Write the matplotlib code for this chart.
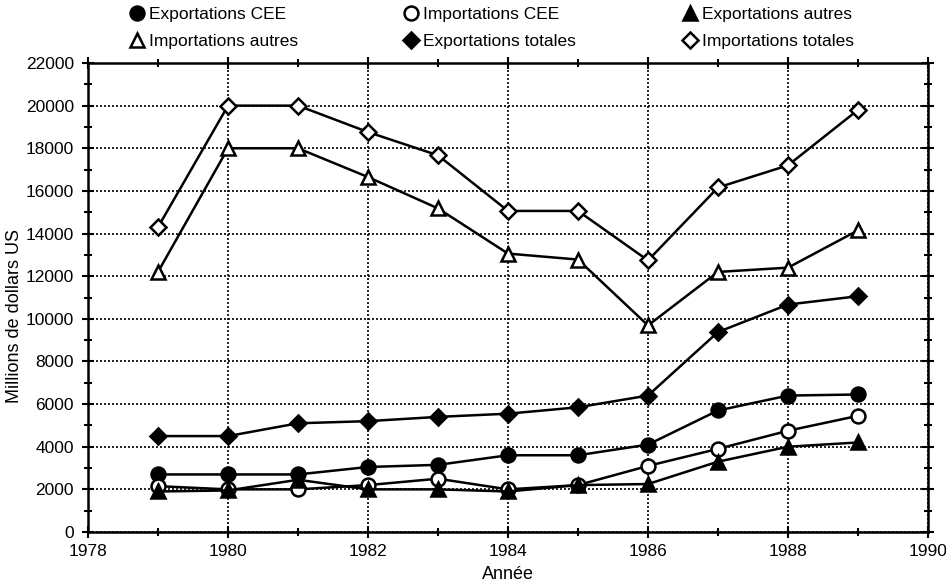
import matplotlib
matplotlib.use("Agg")
import matplotlib.pyplot as plt
from matplotlib.lines import Line2D
from matplotlib.ticker import MultipleLocator

years = [1979, 1980, 1981, 1982, 1983, 1984, 1985, 1986, 1987, 1988, 1989]
exp_cee = [2700, 2700, 2700, 3050, 3150, 3600, 3600, 4100, 5700, 6400, 6450]
imp_cee = [2150, 2000, 2000, 2200, 2500, 2000, 2200, 3100, 3900, 4750, 5450]
exp_autres = [1900, 1950, 2450, 2000, 2000, 1900, 2200, 2250, 3300, 4000, 4200]
imp_autres = [12200, 18000, 18000, 16650, 15180, 13060, 12780, 9690, 12200, 12400, 14150]
exp_tot = [4500, 4500, 5100, 5200, 5400, 5550, 5850, 6400, 9380, 10670, 11060]
imp_tot = [14300, 20000, 20000, 18760, 17670, 15060, 15060, 12740, 16160, 17200, 19800]

labels = ["Exportations CEE", "Importations CEE", "Exportations autres",
          "Importations autres", "Exportations totales", "Importations totales"]
series = [exp_cee, imp_cee, exp_autres, imp_autres, exp_tot, imp_tot]
markers = ["o", "o", "^", "^", "D", "D"]
faces = ["black", "white", "black", "white", "black", "white"]
sizes = [10, 10, 10, 10, 8, 8]

plt.rcParams['font.family'] = ['Liberation Sans', 'DejaVu Sans']

W, H = 946, 586
fig = plt.figure(figsize=(W / 100, H / 100), dpi=100)
ax = fig.add_axes([88 / W, 1 - 532 / H, 840 / W, 469 / H])

for y, m, fc, s in zip(series, markers, faces, sizes):
    ax.plot(years, y, color="black", lw=1.8, marker=m, markersize=s,
            markerfacecolor=fc, markeredgecolor="black", markeredgewidth=1.8,
            zorder=3)

ax.set_xlim(1978, 1990)
ax.set_ylim(0, 22000)
ax.xaxis.set_major_locator(MultipleLocator(2))
ax.xaxis.set_minor_locator(MultipleLocator(1))
ax.yaxis.set_major_locator(MultipleLocator(2000))
ax.yaxis.set_minor_locator(MultipleLocator(1000))
ax.grid(True, which="major", color="black", linestyle=(0, (1.2, 1.2)), lw=1.2)
ax.tick_params(which="both", direction="inout", top=True, right=True,
               labeltop=False, labelright=False, width=1.5, labelsize=12.5)
ax.tick_params(which="major", length=8)
ax.tick_params(which="minor", length=6)
ax.tick_params(axis="x", pad=5)
ax.tick_params(axis="y", pad=6)
for sp in ax.spines.values():
    sp.set_linewidth(1.8)

ax.set_xlabel("Année", fontsize=13)
ax.xaxis.set_label_coords(0.5, -0.072)
ax.set_ylabel("Millions de dollars US", fontsize=13)
ax.yaxis.set_label_coords(-0.077, 0.46)

handles = [Line2D([], [], linestyle="none", marker=m, markersize=s,
                  markerfacecolor=fc, markeredgecolor="black", markeredgewidth=1.8, color="black")
           for m, fc, s in zip(markers, faces, sizes)]
col_x = [130, 404, 683]
for c, x0 in enumerate(col_x):
    idx = [c, c + 3]
    leg = fig.legend([handles[i] for i in idx], [labels[i] for i in idx],
                     loc="upper left", bbox_to_anchor=(x0 / W, 1 - 7 / H),
                     frameon=False, fontsize=12.5, handlelength=0.8,
                     handletextpad=0.3, labelspacing=0.65,
                     borderpad=0, borderaxespad=0)

fig.savefig("out.png", dpi=100)
